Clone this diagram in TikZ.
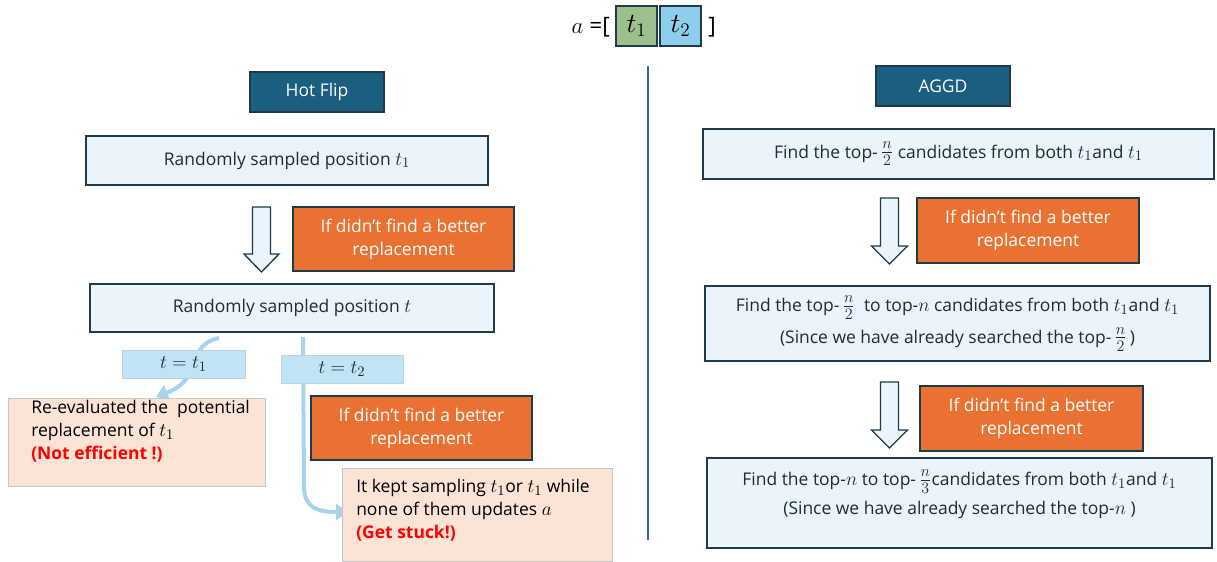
\documentclass[tikz,border=0pt]{standalone}
\usepackage{fontspec}
\setmainfont{Open Sans}
\usetikzlibrary{arrows.meta}
\definecolor{boxfill}{HTML}{EAF4FA}
\definecolor{edge}{HTML}{1F3A4A}
\definecolor{orng}{HTML}{E97132}
\definecolor{headc}{HTML}{1A5E80}
\definecolor{pinkc}{HTML}{FBE3D6}
\definecolor{lblc}{HTML}{C1E4F5}
\definecolor{flowc}{HTML}{A6D4EE}
\definecolor{txtc}{HTML}{1E2B3A}
\definecolor{tgreen}{HTML}{9DBF8E}
\definecolor{tblue}{HTML}{8ECDEB}
\definecolor{divc}{HTML}{2E6F95}
\newcommand{\mbig}{\fontsize{15}{17.25}\selectfont}
\newcommand{\mm}[1]{{\mbig$#1$}}
\newcommand{\mfrac}[2]{{\fontsize{17}{17.25}\selectfont$\frac{#1}{#2}$}}
\tikzset{
  base/.style={inner sep=0pt, align=center, font=\fontsize{13.1}{17.25}\selectfont},
  wh/.style 2 args={minimum width=#1*0.75pt, minimum height=#2*0.75pt},
  stepbox/.style={base, draw=edge, line width=1.2pt, fill=boxfill, text=txtc},
  cond/.style={base, draw=edge, line width=1.2pt, fill=orng, text=white},
  titlebox/.style={base, draw=edge, line width=1pt, fill=headc, text=white},
  notebox/.style={base, draw=gray!45, line width=0.6pt, fill=pinkc, anchor=north west},
  notetext/.style={base, align=left, anchor=north west, text=black},
  eqlbl/.style={base, fill=lblc, draw=lblc!85!gray, line width=.4pt, text=txtc, font=\fontsize{15}{15}\selectfont},
  flowarrow/.style={draw=flowc, line width=3pt, -{Triangle[length=9pt,width=12pt]}},
  blockarrow/.style={draw=edge, line width=1pt, fill=boxfill, line join=miter},
  tok/.style={base, draw=edge, line width=1pt, font=\fontsize{21}{21}\selectfont},
}
\begin{document}
\begin{tikzpicture}[x=0.75pt, y=-0.75pt]
\useasboundingbox (0,0) rectangle (1217,561);

% top token vector
\node[base, font=\fontsize{17}{17}\selectfont, anchor=east] (avec) at (610,27) {$a$ =[};
\node[tok, fill=tgreen, wh={41}{40}] (tok1) at (636.5,26) {$t_1$};
\node[tok, fill=tblue, wh={41}{40}] (tok2) at (680.5,26) {$t_2$};
\node[base, font=\fontsize{17}{17}\selectfont] (close) at (712,27) {]};

% divider
\coordinate (dtop) at (648,66);
\coordinate (dbot) at (648,540);
\draw[divc, line width=1.3pt] (dtop) -- (dbot);

% ---------- left: Hot Flip ----------
\node[titlebox, wh={134}{40}] (hf) at (317,92) {Hot Flip};
\node[stepbox, wh={402}{49}] (L1) at (287,160.5) {Randomly sampled position \mm{t_1}};
\draw[blockarrow] (252.5,207) -- (270.5,207) -- (270.5,254) -- (279,254) -- (261.5,272) -- (244,254) -- (252.5,254) -- cycle;
\node[cond, wh={221}{64}] (Lc1) at (403.5,239) {If didn’t find a better\\replacement};
\node[stepbox, wh={404}{48}] (L2) at (292,308) {Randomly sampled position \mm{t}};

% flow arrows
\coordinate (s1) at (219,338);
\coordinate (e1) at (156,397);
\coordinate (s2) at (303,337);
\coordinate (e2) at (348,512);
\draw[flowarrow] (s1) .. controls (185,345) and (205,378) .. (e1);
\draw[flowarrow] (s2) -- (304,488) .. controls (305,508) and (318,512) .. (e2);

\node[eqlbl, wh={123}{28}] (lb1) at (183.5,364) {$t = t_1$};
\node[eqlbl, wh={122}{28}] (lb2) at (342,369) {$t = t_2$};

\node[notebox, wh={257}{88}] (P1) at (8,398) {};
\node[notetext] (P1t) at (31,400) {Re-evaluated the\ \ potential\\replacement of \mm{t_1}\\\textcolor{red}{\textbf{(Not efficient !)}}};

\node[cond, wh={221}{64}] (Lc2) at (421.5,428) {If didn’t find a better\\replacement};

\node[notebox, wh={270}{93}] (P2) at (342,468) {};
\node[notetext] (P2t) at (356,479) {It kept sampling \mm{t_1}or \mm{t_1} while\\none of them updates \mm{a}\\\textcolor{red}{\textbf{(Get stuck!)}}};

% ---------- right: AGGD ----------
\node[titlebox, wh={134}{40}] (ag) at (943,86) {AGGD};
\node[stepbox, wh={511}{50}] (R1) at (958.5,154) {Find the top-\,\mfrac{n}{2} candidates from both \mm{t_1}and \mm{t_1}};
\draw[blockarrow] (880.5,198) -- (898.5,198) -- (898.5,246) -- (907.5,246) -- (889.5,264) -- (871.5,246) -- (880.5,246) -- cycle;
\node[cond, wh={222}{65}] (Rc1) at (1028,230.5) {If didn’t find a better\\replacement};
\node[stepbox, wh={505}{75}] (R2) at (957.5,323.5) {Find the top-\,\mfrac{n}{2}\ \ to top-\mm{n} candidates from both \mm{t_1}and \mm{t_1}\\[5pt](Since we have already searched the top-\,\mfrac{n}{2}\,)};
\draw[blockarrow] (880.5,382) -- (898.5,382) -- (898.5,430) -- (907.5,430) -- (889.5,448) -- (871.5,430) -- (880.5,430) -- cycle;
\node[cond, wh={223}{65}] (Rc2) at (1031.5,418.5) {If didn’t find a better\\replacement};
\node[stepbox, wh={505}{90}] (R3) at (959.5,503) {};
\node[base, text=txtc] (R3t) at (959.5,494) {Find the top-\mm{n} to top-\,\mfrac{n}{3}candidates from both \mm{t_1}and \mm{t_1}\\[4pt](Since we have already searched the top-\mm{n} )};
\end{tikzpicture}
\end{document}
